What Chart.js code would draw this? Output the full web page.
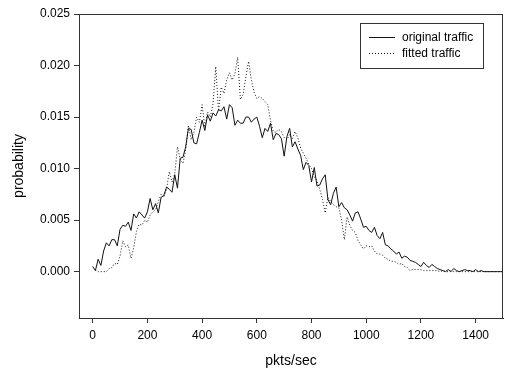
<!DOCTYPE html>
<html>
<head>
<meta charset="utf-8">
<script src="https://cdn.jsdelivr.net/npm/chart.js@4"></script>
<style>
  html, body { margin: 0; padding: 0; background: #fff; }
  #wrap { width: 508px; height: 370px; }
</style>
</head>
<body>
<div id="wrap"><canvas id="chart" width="508" height="370"></canvas></div>
<script>
// pkts/sec grid: 0, 10, 20 ... 1500
const pktsPerSec = Array.from({ length: 151 }, (_, i) => i * 10);

const originalTraffic = [
  0.0005, 0.0001, 0.0012, 0.0006, 0.0020, 0.0028, 0.0025, 0.0031, 0.0031, 0.0025,
  0.0041, 0.0045, 0.0044, 0.0048, 0.0040, 0.0056, 0.0052, 0.0058, 0.0055, 0.0052,
  0.0058, 0.0071, 0.0060, 0.0066, 0.0057, 0.0072, 0.0074, 0.0082, 0.0080, 0.0077,
  0.0094, 0.0081, 0.0110, 0.0111, 0.0121, 0.0139, 0.0138, 0.0125, 0.0124, 0.0135,
  0.0147, 0.0137, 0.0152, 0.0146, 0.0154, 0.0151, 0.0157, 0.0156, 0.0160, 0.0148,
  0.0162, 0.0159, 0.0142, 0.0147, 0.0144, 0.0144, 0.0150, 0.0150, 0.0145, 0.0148,
  0.0150, 0.0141, 0.0130, 0.0139, 0.0136, 0.0144, 0.0128, 0.0134, 0.0133, 0.0129,
  0.0112, 0.0131, 0.0139, 0.0121, 0.0126, 0.0119, 0.0113, 0.0099, 0.0106, 0.0103,
  0.0087, 0.0101, 0.0083, 0.0084, 0.0090, 0.0094, 0.0070, 0.0065, 0.0076, 0.0082,
  0.0063, 0.0067, 0.0062, 0.0060, 0.0055, 0.0049, 0.0057, 0.0058, 0.0051, 0.0043,
  0.0044, 0.0040, 0.0038, 0.0043, 0.0035, 0.0032, 0.0038, 0.0026, 0.0025, 0.0022,
  0.0020, 0.0017, 0.0019, 0.0013, 0.0015, 0.0014, 0.0011, 0.0010, 0.0009, 0.0007,
  0.0005, 0.0009, 0.0006, 0.0004, 0.0007, 0.0005, 0.0003, 0.0002, 0.0001, 0.0000,
  0.0002, 0.0000, 0.0003, 0.0001, 0.0000, 0.0001, 0.0002, 0.0001, 0.0001, 0.0000,
  0.0002, 0.0000, 0.0001, 0, 0, 0, 0, 0, 0, 0,
  0
];

const fittedTraffic = [
  null, 0.0002, 0.0000, 0.0000, 0.0000, 0.0000, 0.0003, 0.0004, 0.0008, 0.0007,
  0.0015, 0.0030, 0.0024, 0.0026, 0.0013, 0.0023, 0.0039, 0.0046, 0.0045, 0.0050,
  0.0048, 0.0055, 0.0058, 0.0060, 0.0068, 0.0075, 0.0072, 0.0080, 0.0097, 0.0087,
  0.0095, 0.0121, 0.0109, 0.0105, 0.0118, 0.0142, 0.0128, 0.0135, 0.0150, 0.0145,
  0.0162, 0.0140, 0.0155, 0.0150, 0.0163, 0.0199, 0.0156, 0.0179, 0.0173, 0.0186,
  0.0193, 0.0186, 0.0192, 0.0208, 0.0167, 0.0172, 0.0189, 0.0204, 0.0186, 0.0174,
  0.0168, 0.0170, 0.0168, 0.0165, 0.0162, 0.0147, 0.0136, 0.0135, 0.0138, 0.0136,
  0.0130, 0.0128, 0.0133, 0.0129, 0.0136, 0.0130, 0.0120, 0.0115, 0.0110, 0.0104,
  0.0100, 0.0092, 0.0088, 0.0080, 0.0070, 0.0057, 0.0072, 0.0068, 0.0065, 0.0063,
  0.0062, 0.0050, 0.0031, 0.0053, 0.0045, 0.0040, 0.0038, 0.0030, 0.0026, 0.0022,
  0.0025, 0.0024, 0.0025, 0.0020, 0.0017, 0.0017, 0.0016, 0.0013, 0.0012, 0.0010,
  0.0010, 0.0009, 0.0007, 0.0008, 0.0005, 0.0004, 0.0001, 0.0002, 0.0002, 0.0002,
  0.0002, 0.0001, 0.0001, 0.0001, 0.0001, 0.0001, 0.0001, 0.0000, 0.0001, 0.0000,
  0, 0, 0, 0, 0, 0, 0, 0, 0, 0,
  0, 0, 0, 0, 0, 0, 0, 0, 0, 0,
  0
];

const xTicks = [0, 200, 400, 600, 800, 1000, 1200, 1400];
const yTicks = [0, 0.005, 0.010, 0.015, 0.020, 0.025];

const FONT = 'Liberation Sans, Arial, sans-serif';

function toPoints(values) {
  return values.map((v, i) => ({ x: pktsPerSec[i], y: v }));
}

// box round the plot area plus a boxed legend in the top right
const framePlugin = {
  id: 'frame',
  afterDraw(chart) {
    const { ctx, chartArea: a } = chart;
    ctx.save();
    ctx.strokeStyle = '#333';
    ctx.lineWidth = 1;
    ctx.strokeRect(a.left + 0.5, a.top + 0.5, a.right - a.left - 1, a.bottom - a.top);

    const bx = 360.5, by = 23.5, bw = 123, bh = 45;
    ctx.strokeRect(bx, by, bw, bh);
    ctx.font = '12px ' + FONT;
    ctx.textBaseline = 'middle';
    ctx.fillStyle = '#000';
    chart.data.datasets.forEach((ds, i) => {
      const y = 37.5 + i * 16;
      ctx.beginPath();
      ctx.setLineDash(ds.borderDash || []);
      ctx.strokeStyle = ds.borderColor;
      ctx.moveTo(369, y);
      ctx.lineTo(395, y);
      ctx.stroke();
      ctx.setLineDash([]);
      ctx.fillText(ds.label, 402, y);
    });
    ctx.restore();
  }
};

new Chart(document.getElementById('chart'), {
  type: 'line',
  data: {
    datasets: [
      {
        label: 'original traffic',
        data: toPoints(originalTraffic),
        borderColor: '#111',
        borderWidth: 1,
        pointRadius: 0,
        tension: 0,
        fill: false
      },
      {
        label: 'fitted traffic',
        data: toPoints(fittedTraffic),
        borderColor: '#111',
        borderWidth: 1,
        borderDash: [1, 2],
        pointRadius: 0,
        tension: 0,
        fill: false
      }
    ]
  },
  options: {
    responsive: false,
    animation: false,
    layout: { padding: { top: 14, right: 5, left: 0, bottom: 0 } },
    plugins: {
      legend: { display: false },
      tooltip: { enabled: false }
    },
    scales: {
      x: {
        type: 'linear',
        min: -50,
        max: 1500,
        afterBuildTicks: s => { s.ticks = xTicks.map(v => ({ value: v })); },
        afterFit: s => { s.height = 52; },
        grid: { drawOnChartArea: false, color: '#333', tickLength: 5 },
        border: { color: '#333' },
        ticks: {
          color: '#000',
          font: { family: FONT, size: 12 },
          padding: 5,
          maxRotation: 0,
          callback: v => String(v)
        },
        title: { display: true, text: 'pkts/sec', color: '#000', font: { family: FONT, size: 14 }, padding: { top: 2, bottom: 0 } }
      },
      y: {
        min: -0.0045,
        max: 0.025,
        afterBuildTicks: s => { s.ticks = yTicks.map(v => ({ value: v })); },
        afterFit: s => { s.width = 79; },
        grid: { drawOnChartArea: false, color: '#333', tickLength: 5 },
        border: { color: '#333' },
        ticks: {
          color: '#000',
          font: { family: FONT, size: 12 },
          padding: 4,
          callback: v => v.toFixed(3)
        },
        title: { display: true, text: 'probability', color: '#000', font: { family: FONT, size: 14 }, padding: { top: 11, bottom: 0 } }
      }
    }
  },
  plugins: [framePlugin]
});
</script>
</body>
</html>
